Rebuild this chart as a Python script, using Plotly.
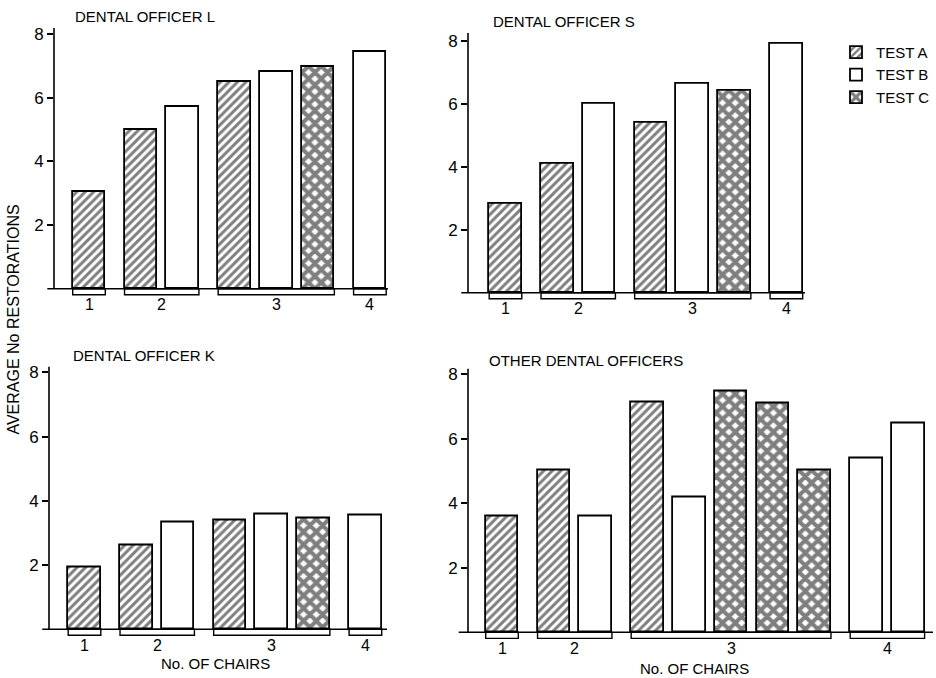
import plotly.graph_objects as go

W, H = 936, 678

# ---------------- data ----------------
chair_labels = ["1", "2", "3", "4"]
test_names = {"A": "TEST A", "B": "TEST B", "C": "TEST C"}

officer_L_tests = [["A"], ["A", "B"], ["A", "B", "C"], ["B"]]
officer_L_values = [[3.05], [5.0, 5.7], [6.5, 6.8, 6.95], [7.45]]

officer_S_tests = [["A"], ["A", "B"], ["A", "B", "C"], ["B"]]
officer_S_values = [[2.83], [4.1, 6.0], [5.4, 6.65, 6.42], [7.92]]

officer_K_tests = [["A"], ["A", "B"], ["A", "B", "C"], ["B"]]
officer_K_values = [[1.93], [2.62, 3.32], [3.4, 3.58, 3.45], [3.56]]

other_tests = [["A"], ["A", "B"], ["A", "B", "C", "C", "C"], ["B", "B"]]
other_values = [[3.6], [5.03, 3.58], [7.13, 4.17, 7.47, 7.1, 5.03], [5.4, 6.48]]

panel_titles = ["DENTAL OFFICER L", "DENTAL OFFICER S", "DENTAL OFFICER K", "OTHER DENTAL OFFICERS"]
y_ticks = [2, 4, 6, 8]
y_title = "AVERAGE No RESTORATIONS"
x_title = "No. OF CHAIRS"

# ---------------- layout / style ----------------
FONT = "Liberation Sans, Arial, sans-serif"
SLOT_PX = 41.8     # pixels per bar slot
GROUP_GAP = 0.24   # extra gap between chair groups (in slots)
BAR_W = 0.78
Y_MIN = -0.7

patterns = {
    "A": dict(shape="/", fgcolor="black", bgcolor="white", size=6, solidity=0.5),
    "B": dict(shape="", fgcolor="black", bgcolor="white"),
    "C": dict(shape="x", fgcolor="black", bgcolor="white", size=9, solidity=0.7),
}

# pixel geometry of each panel: y-axis x, first bar centre, right end, baseline y, px per unit, top y
geoms = [
    dict(left=54, first=89, right=388, base=287, ppu=32.0, top=25, title=(73, 14)),
    dict(left=468, first=505.5, right=805, base=291, ppu=31.6, top=30, title=(491, 19)),
    dict(left=49, first=84.5, right=387, base=629, ppu=32.25, top=365, title=(71, 354)),
    dict(left=468, first=502, right=933, base=632, ppu=32.4, top=367, title=(487, 359)),
]
panels = [
    (officer_L_tests, officer_L_values),
    (officer_S_tests, officer_S_values),
    (officer_K_tests, officer_K_values),
    (other_tests, other_values),
]

fig = go.Figure()
shapes, annotations = [], []
layout = {}

for p, ((tests, values), g) in enumerate(zip(panels, geoms)):
    n = "" if p == 0 else str(p + 1)
    xa, ya = "x" + n, "y" + n
    # positions from slot structure
    pos, slot = [], 0
    for gi, grp in enumerate(values):
        row = []
        for _ in grp:
            row.append(slot + GROUP_GAP * gi)
            slot += 1
        pos.append(row)
    for t in ["A", "B", "C"]:
        xs, ys = [], []
        for gi in range(len(values)):
            for k, tt in enumerate(tests[gi]):
                if tt == t:
                    xs.append(pos[gi][k])
                    ys.append(values[gi][k])
        if not xs:
            continue
        fig.add_trace(go.Bar(
            x=xs, y=ys, width=BAR_W, name=test_names[t], legendgroup=t,
            showlegend=(p == 0), xaxis=xa, yaxis=ya,
            marker=dict(color="white", line=dict(color="black", width=1.8),
                        pattern=patterns[t]),
        ))
    xmin = -(g["first"] - g["left"]) / SLOT_PX
    xmax = xmin + (g["right"] - g["left"]) / SLOT_PX
    ymax = (g["base"] - g["top"]) / g["ppu"]
    ybottom_px = g["base"] - Y_MIN * g["ppu"]
    layout["xaxis" + n] = dict(domain=[g["left"] / W, g["right"] / W], range=[xmin, xmax],
                               visible=False, anchor=ya)
    layout["yaxis" + n] = dict(domain=[1 - ybottom_px / H, 1 - g["top"] / H], range=[Y_MIN, ymax],
                               anchor=xa, tickvals=y_ticks, ticks="outside", ticklen=6,
                               tickwidth=1.5, tickcolor="black", showgrid=False, zeroline=False,
                               showline=False, tickfont=dict(family=FONT, size=17, color="black"))
    # y axis line and baseline
    shapes.append(dict(type="line", xref=xa + " domain", yref=ya, x0=0, x1=0, y0=0, y1=ymax,
                       line=dict(color="black", width=1.6)))
    shapes.append(dict(type="line", xref=xa + " domain", yref=ya, x0=-0.02, x1=1, y0=0, y1=0,
                       line=dict(color="black", width=1.6)))
    # group brackets and labels
    for gi, row in enumerate(pos):
        x0 = row[0] - BAR_W / 2
        x1 = row[-1] + BAR_W / 2
        shapes.append(dict(type="rect", xref=xa, yref=ya, x0=x0, x1=x1, y0=-0.19, y1=0,
                           line=dict(color="black", width=1.4)))
        annotations.append(dict(xref=xa, yref=ya, x=(x0 + x1) / 2, y=0, yshift=-16,
                                yanchor="middle", text=chair_labels[gi], showarrow=False,
                                font=dict(family=FONT, size=16, color="black")))
    tx, ty = g["title"]
    annotations.append(dict(xref="paper", yref="paper", x=tx / W, y=1 - ty / H, xanchor="left",
                            yanchor="middle", text=panel_titles[p], showarrow=False,
                            font=dict(family=FONT, size=15, color="black")))

# axis titles
annotations.append(dict(xref="paper", yref="paper", x=14 / W, y=1 - 318 / H, text=y_title,
                        textangle=-90, showarrow=False, xanchor="center", yanchor="middle",
                        font=dict(family=FONT, size=16, color="black")))
for cx, cy in [(215, 663), (694, 668)]:
    annotations.append(dict(xref="paper", yref="paper", x=cx / W, y=1 - cy / H, text=x_title,
                            showarrow=False, xanchor="center", yanchor="middle",
                            font=dict(family=FONT, size=15, color="black")))

fig.update_layout(
    width=W, height=H, margin=dict(l=0, r=0, t=0, b=0),
    paper_bgcolor="white", plot_bgcolor="white",
    shapes=shapes, annotations=annotations,
    showlegend=True,
    legend=dict(x=836 / W, y=1 - 33 / H, xanchor="left", yanchor="top",
                font=dict(family=FONT, size=15, color="black"), tracegroupgap=22,
                bgcolor="rgba(0,0,0,0)", traceorder="normal", itemwidth=30),
    bargap=0,
    **layout,
)

fig.write_html("out.html", config={"displayModeBar": False},
               post_script="document.body.style.margin='0';")
